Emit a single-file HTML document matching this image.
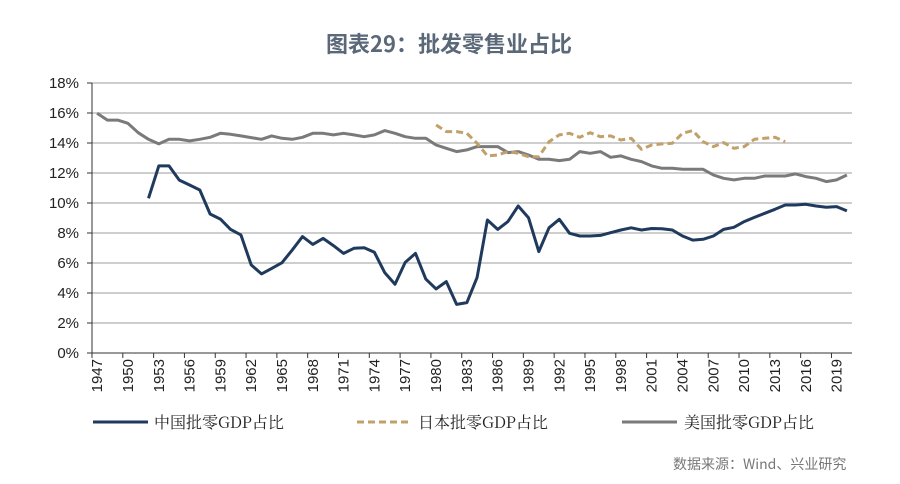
<!DOCTYPE html>
<html><head><meta charset="utf-8"><style>
body{margin:0;background:#fff;width:900px;height:484px;overflow:hidden}
svg{display:block}
text{font-family:"Liberation Sans","Noto Sans CJK SC",sans-serif}
</style></head><body>
<svg id="chart" width="900" height="484">
<text x="449" y="52" text-anchor="middle" font-size="22" font-weight="bold" fill="#5a6878" style="font-family:'Noto Sans CJK SC',sans-serif">图表29：批发零售业占比</text>
<g id="grid"></g>
<g id="yaxis"></g>
<g id="xaxis"></g>
<g id="series"></g>
<g>
<g><line x1="93" y1="422" x2="148" y2="422" stroke="#1f3a5c" stroke-width="3"/><text x="154" y="428" font-size="16" fill="#222" style="font-family:'Noto Serif CJK SC','Noto Sans CJK SC',serif">中国批零GDP占比</text></g>
<g><line x1="357" y1="422" x2="412" y2="422" stroke="#c2a06a" stroke-width="3" stroke-dasharray="7,4"/><text x="418" y="428" font-size="16" fill="#222" style="font-family:'Noto Serif CJK SC','Noto Sans CJK SC',serif">日本批零GDP占比</text></g>
<g><line x1="622" y1="422" x2="677" y2="422" stroke="#7a7a7a" stroke-width="3"/><text x="684" y="428" font-size="16" fill="#222" style="font-family:'Noto Serif CJK SC','Noto Sans CJK SC',serif">美国批零GDP占比</text></g>
</g>
<text x="673" y="469" font-size="14" fill="#777" style="font-family:'Noto Sans CJK SC',sans-serif">数据来源：Wind、兴业研究</text>
</svg>
<script>
const firstYear = 1947;
const lastYear = 2020;
const chinaStart = 1952;
const chinaValues = [10.31,12.47,12.47,11.53,11.2,10.87,9.27,8.93,8.24,7.87,5.87,5.27,5.64,6.02,6.87,7.76,7.24,7.64,7.16,6.64,6.98,7.02,6.71,5.36,4.58,6.04,6.64,4.93,4.27,4.76,3.24,3.36,5.04,8.87,8.24,8.76,9.80,9.02,6.76,8.35,8.91,7.98,7.80,7.80,7.84,8.02,8.2,8.35,8.2,8.3,8.29,8.2,7.8,7.53,7.58,7.8,8.24,8.38,8.76,9.04,9.31,9.58,9.87,9.87,9.91,9.8,9.71,9.76,9.47];
const japanStart = 1980;
const japanValues = [15.2,14.76,14.76,14.65,13.98,13.14,13.2,13.43,13.31,13.09,13.09,14.09,14.54,14.65,14.38,14.69,14.42,14.47,14.2,14.31,13.58,13.87,13.94,13.98,14.65,14.83,14.09,13.76,14.03,13.65,13.76,14.25,14.31,14.38,14.09];
const usaStart = 1947;
const usaValues = [15.98,15.53,15.53,15.31,14.69,14.25,13.94,14.25,14.25,14.14,14.25,14.38,14.65,14.58,14.47,14.36,14.25,14.47,14.31,14.25,14.38,14.65,14.65,14.54,14.65,14.54,14.42,14.54,14.83,14.65,14.42,14.31,14.31,13.87,13.65,13.43,13.54,13.76,13.76,13.76,13.36,13.43,13.2,12.91,12.91,12.83,12.91,13.43,13.31,13.43,13.05,13.14,12.91,12.76,12.47,12.31,12.31,12.25,12.25,12.25,11.87,11.65,11.54,11.65,11.65,11.8,11.8,11.8,11.94,11.76,11.65,11.43,11.54,11.87];
const yTicks = [0,2,4,6,8,10,12,14,16,18];

const NS = "http://www.w3.org/2000/svg";
const X0 = 92, X1 = 852, Y0 = 353, YPX = 15;
const band = (X1 - X0) / (lastYear - firstYear + 1);
const xOf = yr => X0 + (yr - firstYear + 0.5) * band;
const yOf = v => Y0 - v * YPX;
function mk(tag, attrs, parent){const e=document.createElementNS(NS,tag);for(const k in attrs)e.setAttribute(k,attrs[k]);parent.appendChild(e);return e;}

const grid=document.getElementById('grid'), ya=document.getElementById('yaxis'), xa=document.getElementById('xaxis'), ser=document.getElementById('series');
yTicks.forEach(t=>{
  if(t>0){const l=mk('line',{x1:X0,x2:X1,y1:yOf(t),y2:yOf(t),stroke:'#bdbdbd','stroke-width':1.5},grid);
  
  }
  const tk=mk('line',{x1:X0-5,x2:X0,y1:yOf(t),y2:yOf(t),stroke:'#333','stroke-width':1},ya);
  
  
  const tx=mk('text',{x:X0-13,y:yOf(t)+5,'text-anchor':'end','font-size':15,fill:'#222'},ya);
  tx.textContent=t+'%';
  
  
});
mk('line',{x1:X0,x2:X0,y1:yOf(18),y2:Y0,stroke:'#333','stroke-width':1},ya);
mk('line',{x1:X0,x2:X1,y1:Y0,y2:Y0,stroke:'#333','stroke-width':1},xa);
for(let yr=firstYear; yr<=lastYear; yr++){
  const i=yr-firstYear;
  if(i%3===0){
    const bx=X0+i*band;
    const tk=mk('line',{x1:bx,x2:bx,y1:Y0,y2:Y0+5,stroke:'#333','stroke-width':1},xa);
    
    
    const cx=xOf(yr);
    const tx=mk('text',{x:0,y:0,'text-anchor':'end','font-size':15,fill:'#222',transform:`translate(${cx+5},${Y0+6}) rotate(-90)`},xa);
    tx.textContent=yr;
    
    
  }
}
function drawLine(start, vals, color, dash, name){
  const pts=vals.map((v,i)=>xOf(start+i).toFixed(1)+','+yOf(v).toFixed(1)).join(' ');
  const p=mk('polyline',{points:pts,fill:'none',stroke:color,'stroke-width':3,'stroke-linejoin':'round'},ser);
  if(dash)p.setAttribute('stroke-dasharray',dash);
  
  
}
drawLine(usaStart,usaValues,'#7a7a7a',null,'usa-line');
drawLine(japanStart,japanValues,'#c2a06a','7,4','japan-line');
drawLine(chinaStart,chinaValues,'#1f3a5c',null,'china-line');
</script>
</body></html>
